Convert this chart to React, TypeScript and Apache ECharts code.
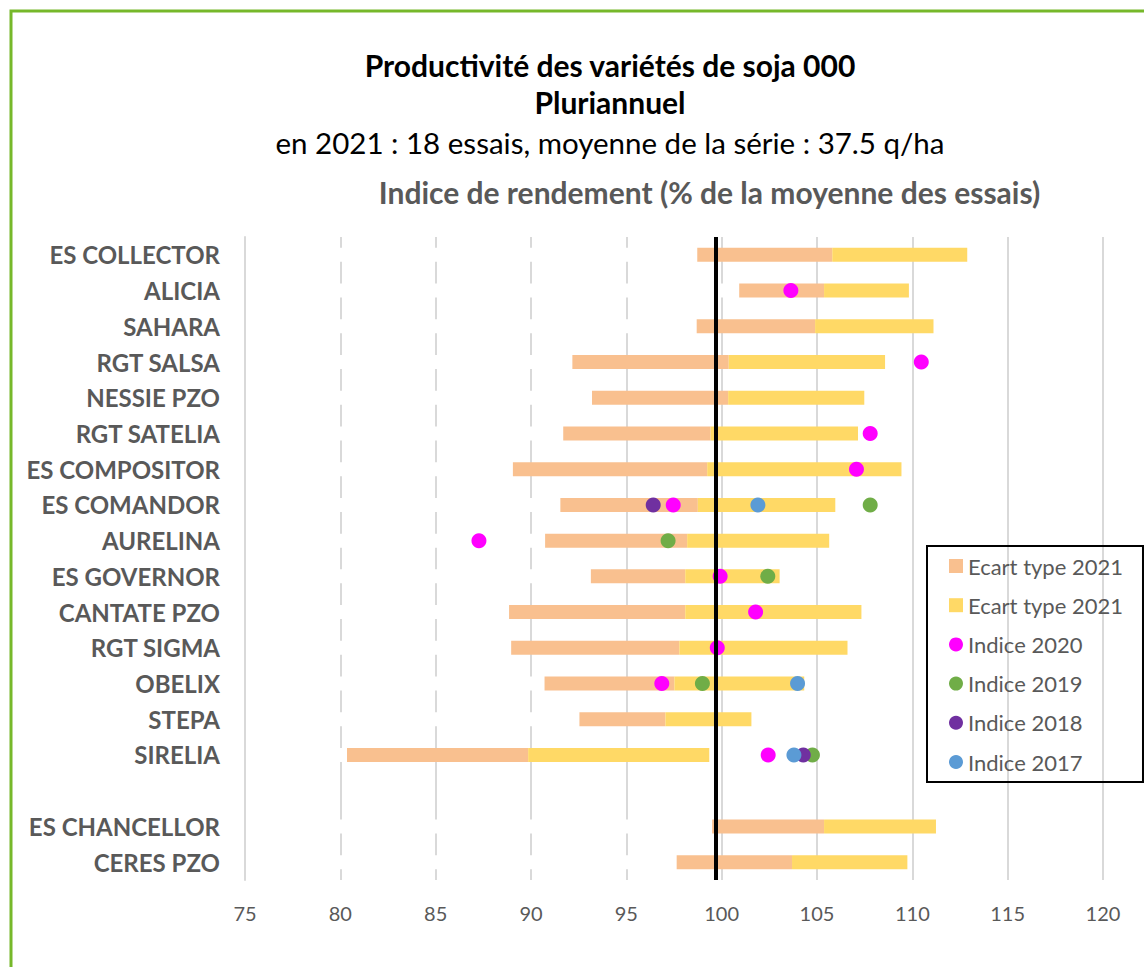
import React, { useEffect, useRef } from 'react';
import * as echarts from 'echarts';

const categories = [
  'ES COLLECTOR', 'ALICIA', 'SAHARA', 'RGT SALSA', 'NESSIE PZO', 'RGT SATELIA',
  'ES COMPOSITOR', 'ES COMANDOR', 'AURELINA', 'ES GOVERNOR', 'CANTATE PZO',
  'RGT SIGMA', 'OBELIX', 'STEPA', 'SIRELIA', '', 'ES CHANCELLOR', 'CERES PZO',
];

// Indice moyen 2021 (fin du segment orange) et écart type 2021
const mean2021 = [105.8, 105.37, 104.9, 100.37, 100.34, 99.42, 99.24, 98.75, 98.19, 98.09, 98.09, 97.78, 97.52, 97.05, 89.85, null, 105.37, 103.69];
const sd2021 = [7.08, 4.45, 6.21, 8.2, 7.14, 7.73, 10.19, 7.21, 7.45, 4.95, 9.24, 8.82, 6.81, 4.51, 9.5, null, 5.87, 6.05];

const indice2020 = [null, 103.63, null, 110.47, null, 107.79, 107.07, 97.46, 87.27, 99.92, 101.78, 99.77, 96.86, null, 102.44, null, null, null];
const indice2019 = [null, null, null, null, null, null, null, 107.79, 97.19, 102.42, null, null, 98.99, null, 104.76, null, null, null];
const indice2018 = [null, null, null, null, null, null, null, 96.41, null, null, null, null, null, null, 104.28, null, null, null];
const indice2017 = [null, null, null, null, null, null, null, 101.9, null, null, null, null, 103.98, null, 103.79, null, null, null];

const averageLine = 99.7;
const xTicks = { min: 75, max: 120, step: 5 };

const FONT = 'Lato';
const GREY = '#595959';

export default function App() {
  const ref = useRef<HTMLDivElement>(null);
  useEffect(() => {
    const chart = echarts.init(ref.current as HTMLDivElement, null, { renderer: 'svg' });
    const low = mean2021.map((m, i) => (m == null || sd2021[i] == null ? null : +(m - (sd2021[i] as number)).toFixed(2)));
    const pts = (arr: (number | null)[]) =>
      arr.map((v, i) => (v == null ? null : [v, i])).filter((p) => p != null);
    const scatter = (name: string, data: (number | null)[], color: string) => ({
      type: 'scatter',
      name,
      data: pts(data),
      symbol: 'circle',
      symbolSize: 15,
      itemStyle: { color, opacity: 1 },
      z: 3,
    });
    chart.setOption({
      animation: false,
      grid: { left: 245, right: 41, top: 237, bottom: 87, containLabel: false },
      xAxis: {
        type: 'value',
        min: xTicks.min,
        max: xTicks.max,
        interval: xTicks.step,
        axisLine: { show: false },
        axisTick: { show: false },
        splitLine: { show: true, lineStyle: { color: '#D9D9D9', width: 2 } },
        axisLabel: { color: GREY, fontFamily: FONT, fontSize: 20, margin: 23 },
      },
      yAxis: {
        type: 'category',
        data: categories,
        inverse: true,
        z: 5,
        axisTick: { show: false },
        axisLine: { show: true, lineStyle: { color: '#D9D9D9', width: 2 } },
        axisLabel: { color: GREY, fontFamily: FONT, fontWeight: 'bold', fontSize: 24, margin: 25 },
      },
      legend: {
        orient: 'vertical',
        left: 927,
        top: 546,
        data: [
          { name: 'sdLow', icon: 'rect' },
          { name: 'sdHigh', icon: 'rect' },
          { name: 'Indice 2020', icon: 'circle' },
          { name: 'Indice 2019', icon: 'circle' },
          { name: 'Indice 2018', icon: 'circle' },
          { name: 'Indice 2017', icon: 'circle' },
        ],
        formatter: (n: string) => (n.startsWith('sd') ? 'Ecart type 2021' : n),
        itemWidth: 14,
        itemHeight: 14,
        itemGap: 17.2,
        selectedMode: false,
        textStyle: { fontFamily: FONT, fontSize: 22, color: GREY, lineHeight: 20 },
        borderColor: '#000',
        borderWidth: 2,
        padding: [9, 20, 9, 22],
        backgroundColor: 'transparent',
      },
      series: [
        {
          type: 'bar',
          name: 'base',
          stack: 'total',
          data: low,
          barWidth: 14,
          silent: true,
          itemStyle: { color: '#FFFFFF' },
        },
        {
          type: 'bar',
          name: 'sdLow',
          stack: 'total',
          data: sd2021,
          barWidth: 14,
          itemStyle: { color: '#F9C08F' },
        },
        {
          type: 'bar',
          name: 'sdHigh',
          stack: 'total',
          data: sd2021,
          barWidth: 14,
          itemStyle: { color: '#FFD966' },
          markLine: {
            silent: true,
            symbol: 'none',
            z: 10,
            label: { show: false },
            lineStyle: { color: '#000', width: 4, type: 'solid' },
            data: [{ xAxis: averageLine }],
          },
        },
        scatter('Indice 2020', indice2020, '#FF00FF'),
        scatter('Indice 2019', indice2019, '#70AD47'),
        scatter('Indice 2018', indice2018, '#7030A0'),
        scatter('Indice 2017', indice2017, '#5B9BD5'),
      ],
      graphic: [
        {
          type: 'rect',
          silent: true,
          shape: { x: 11, y: 11, width: 1200, height: 1000 },
          style: { fill: 'none', stroke: '#76B82A', lineWidth: 3 },
        },
        {
          type: 'text',
          silent: true,
          style: { text: 'Productivité des variétés de soja 000', x: 610, y: 65, textAlign: 'center', textVerticalAlign: 'middle', font: `bold 30px ${FONT}`, fill: '#000' },
        },
        {
          type: 'text',
          silent: true,
          style: { text: 'Pluriannuel', x: 610, y: 102, textAlign: 'center', textVerticalAlign: 'middle', font: `bold 30px ${FONT}`, fill: '#000' },
        },
        {
          type: 'text',
          silent: true,
          style: { text: 'en 2021 : 18 essais, moyenne de la série : 37.5 q/ha', x: 610, y: 142, textAlign: 'center', textVerticalAlign: 'middle', font: `29.5px ${FONT}`, fill: '#000' },
        },
        {
          type: 'text',
          silent: true,
          style: { text: 'Indice de rendement (% de la moyenne des essais)', x: 709.5, y: 192, textAlign: 'center', textVerticalAlign: 'middle', font: `bold 30px ${FONT}`, fill: GREY },
        },
      ],
    });
    return () => chart.dispose();
  }, []);
  return (
    <div
      ref={ref}
      style={{ position: 'fixed', left: 0, top: 0, width: 1144, height: 967, background: '#fff' }}
    />
  );
}
